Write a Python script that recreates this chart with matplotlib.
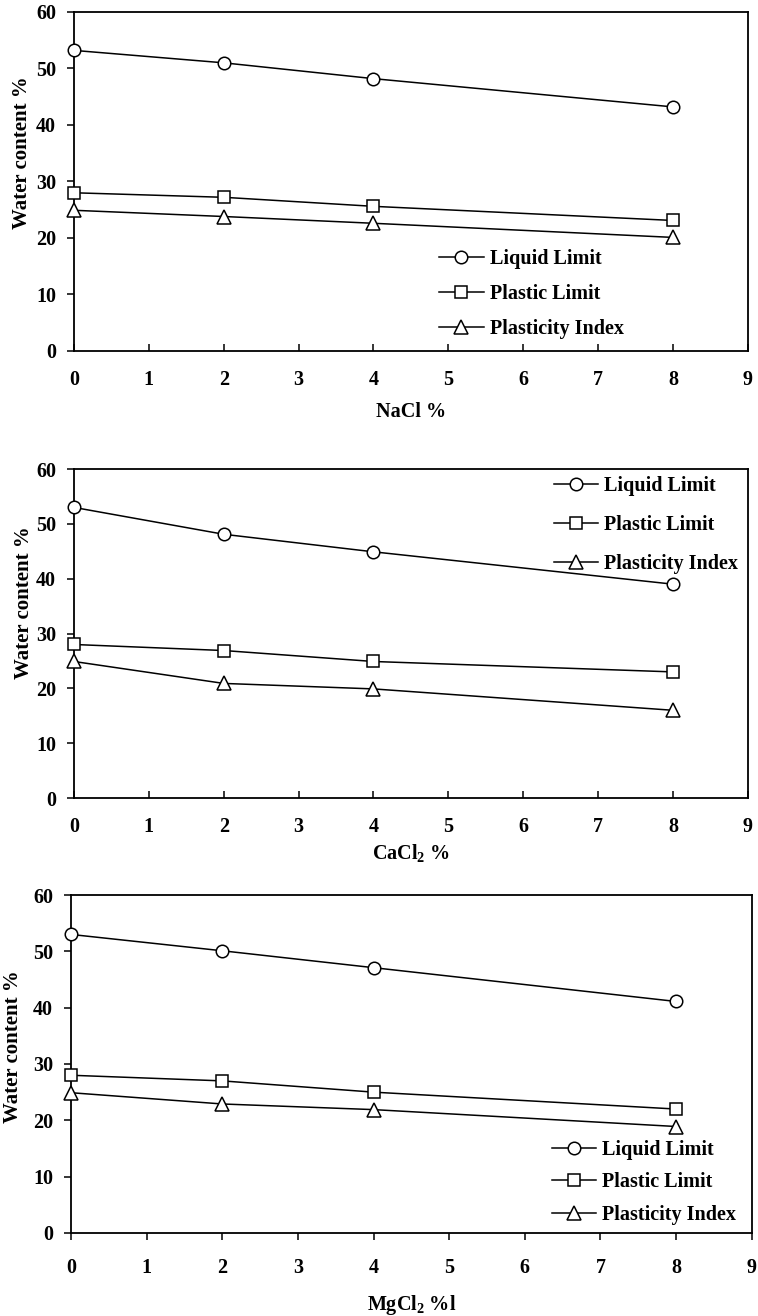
import numpy as np
import matplotlib
matplotlib.use('Agg')
import matplotlib.pyplot as plt

# Data
salt_pct = [0, 2, 4, 8]

nacl_ll = [53.2, 51.0, 48.2, 43.2]
nacl_pl = [28.0, 27.2, 25.6, 23.1]
nacl_pi = [24.9, 23.8, 22.6, 20.1]

cacl_ll = [53.0, 48.1, 44.9, 39.0]
cacl_pl = [28.0, 26.9, 24.9, 23.0]
cacl_pi = [24.9, 20.9, 19.9, 16.0]

mgcl_ll = [53.0, 50.1, 47.1, 41.1]
mgcl_pl = [28.0, 27.0, 25.0, 22.0]
mgcl_pi = [24.9, 22.9, 21.9, 18.9]

series_names = ['Liquid Limit', 'Plastic Limit', 'Plasticity Index']
series_markers = ['o', 's', '^']
x_labels = ['NaCl %', 'CaCl$_{\\mathbf{2}}$ %', 'MgCl$_{\\mathbf{2}}$ %l']
x_ticks = list(range(10))
y_ticks = [0, 10, 20, 30, 40, 50, 60]

plt.rcParams['font.family'] = ['Liberation Serif', 'DejaVu Serif']
plt.rcParams['font.weight'] = 'bold'
plt.rcParams['mathtext.fontset'] = 'custom'
plt.rcParams['mathtext.rm'] = 'Liberation Serif:bold'
plt.rcParams['mathtext.bf'] = 'Liberation Serif:bold'

fig = plt.figure(figsize=(7.58, 13.16), dpi=100)

# axes boxes in figure fractions
boxes = [
    [0.0976, 0.7333, 0.889, 0.2576],
    [0.0976, 0.3936, 0.889, 0.2500],
    [0.0937, 0.0631, 0.898, 0.2568],
]
panels = [
    (nacl_ll, nacl_pl, nacl_pi),
    (cacl_ll, cacl_pl, cacl_pi),
    (mgcl_ll, mgcl_pl, mgcl_pi),
]
legend_anchor = [(0.542, 0.167), (0.712, 0.830), (0.706, 0.150)]
legend_spacing = [0.75, 0.95, 0.62]
xtick_dir = ['in', 'in', 'out']
xtick_pad = [14, 14, 13]
xlabel_y = [-0.150, -0.137, -0.178]
ylabel_xy = [(-0.063, 0.584), (-0.060, 0.593), (-0.070, 0.55)]

for i, ax_box in enumerate(boxes):
    ax = fig.add_axes(ax_box)
    for vals, name, mk in zip(panels[i], series_names, series_markers):
        ms = 10 if mk == '^' else 9
        ax.plot(salt_pct, vals, color='black', linewidth=1.1, marker=mk,
                markersize=ms, markerfacecolor='white', markeredgecolor='black',
                markeredgewidth=1.1, clip_on=False, zorder=3, label=name)

    ax.set_xlim(0, 9)
    ax.set_ylim(0, 60)
    ax.set_xticks(x_ticks)
    ax.set_yticks(y_ticks)
    for sp in ax.spines.values():
        sp.set_linewidth(1.3)
    ax.tick_params(axis='x', direction=xtick_dir[i], length=5, width=1.1,
                   pad=xtick_pad[i], labelsize=14.5)
    ax.tick_params(axis='y', direction='out', length=5, width=1.1,
                   pad=8, labelsize=14.5)

    ax.set_xlabel(x_labels[i], fontsize=14.5, fontweight='bold')
    ax.xaxis.set_label_coords(0.5, xlabel_y[i])
    ax.set_ylabel('Water content %', fontsize=15, fontweight='bold')
    ax.yaxis.set_label_coords(*ylabel_xy[i])

    ax.legend(loc='center left', bbox_to_anchor=legend_anchor[i],
              frameon=False, handlelength=2.2, handletextpad=0.3,
              labelspacing=legend_spacing[i], borderpad=0, borderaxespad=0,
              prop={'weight': 'bold', 'size': 14.5})

fig.savefig('out.png', dpi=100)
